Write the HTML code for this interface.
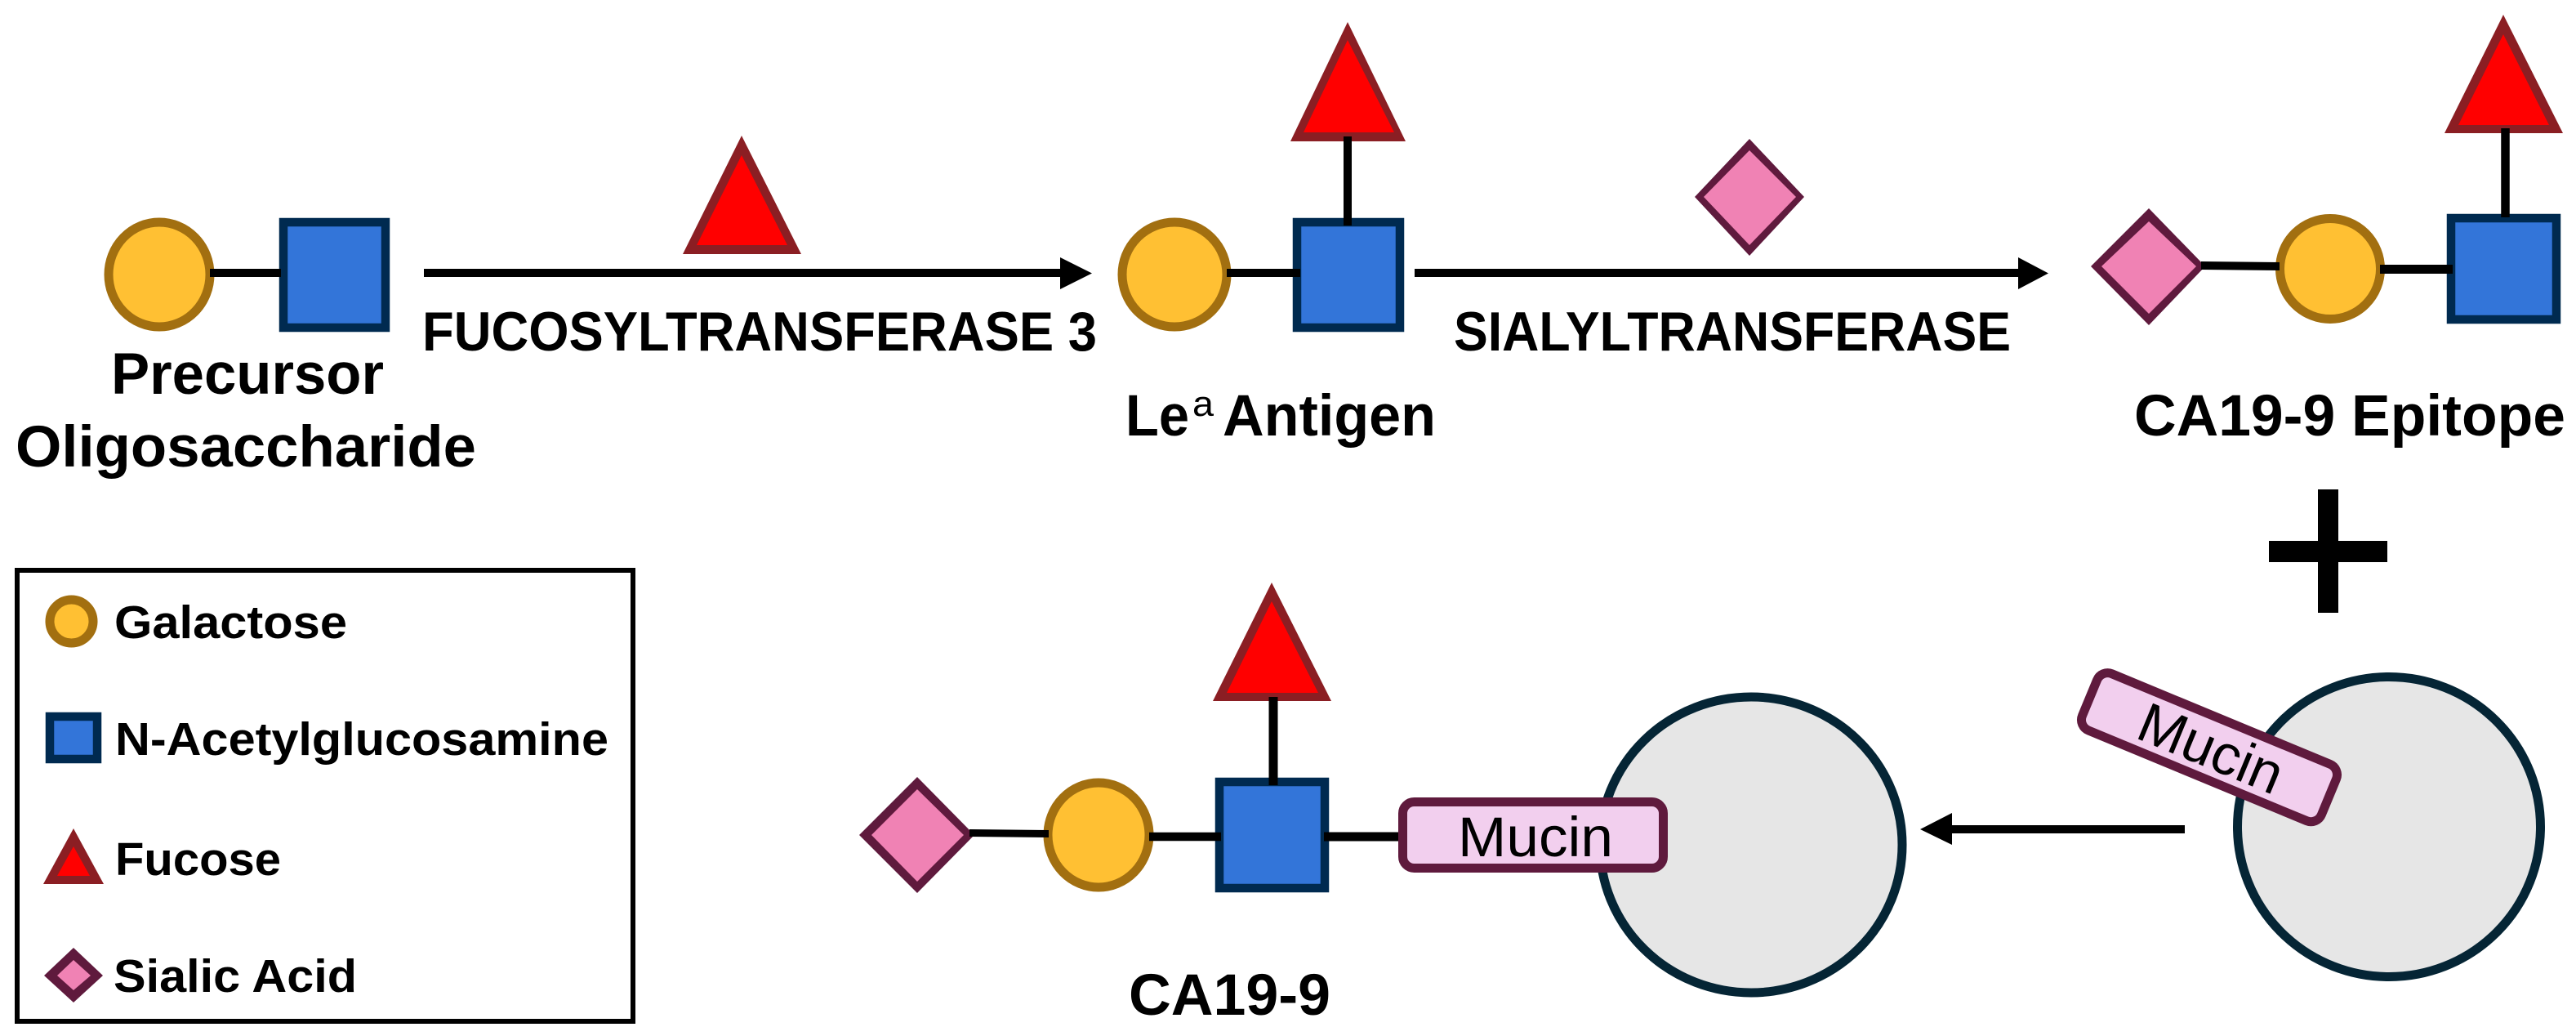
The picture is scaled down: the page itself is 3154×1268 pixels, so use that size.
<!DOCTYPE html>
<html><head><meta charset="utf-8"><style>
html,body{margin:0;padding:0;background:#fff}
svg{display:block}
text{font-family:"Liberation Sans",sans-serif;font-weight:bold;fill:#000}
.g{fill:#ffc033;stroke:#a26f10;stroke-width:11}
.b{fill:#3375d9;stroke:#002a50;stroke-width:10.500}
.do{fill:#5f1a3d}.di{fill:#f082b4}
.to{fill:#8b1e23}.ti{fill:#f00}
.c{fill:#e6e6e6;stroke:#052535;stroke-width:11}
.m{fill:#f2cfee;stroke:#5f1a3d;stroke-width:11}
line{stroke:#000}
</style></head><body>
<svg width="3154" height="1268" viewBox="0 0 3154 1268" xmlns="http://www.w3.org/2000/svg">
<rect width="3154" height="1268" fill="#fff"/>

<!-- Precursor -->
<ellipse class="g" cx="195" cy="336" rx="62" ry="64"/>
<rect class="b" x="347" y="272" width="125" height="129"/>
<line x1="257" y1="334" x2="344" y2="334" stroke-width="10"/>
<text x="136" y="482" font-size="71" textLength="334" lengthAdjust="spacingAndGlyphs">Precursor</text>
<text x="19" y="571" font-size="71" textLength="564" lengthAdjust="spacingAndGlyphs">Oligosaccharide</text>

<!-- Arrow 1 -->
<polygon class="to" points="908,166 981,311 836,311"/>
<polygon class="ti" points="908,190 964,300 853,300"/>
<line x1="519" y1="334" x2="1300" y2="334" stroke-width="10"/>
<polygon points="1298,315 1337,334.500 1298,354"/>
<text x="517" y="429" font-size="68" textLength="826" lengthAdjust="spacingAndGlyphs">FUCOSYLTRANSFERASE 3</text>

<!-- Lea -->
<ellipse class="g" cx="1438" cy="336" rx="64" ry="64"/>
<rect class="b" x="1588" y="272" width="126" height="129"/>
<polygon class="to" points="1650,27 1721,173 1580,173"/>
<polygon class="ti" points="1650,49 1707,162 1596,162"/>
<line x1="1502" y1="334" x2="1592" y2="334" stroke-width="10"/>
<line x1="1650" y1="167" x2="1650" y2="276" stroke-width="10"/>
<text x="1378" y="533" font-size="71" textLength="78" lengthAdjust="spacingAndGlyphs">Le</text>
<text x="1460" y="509" font-size="44" style="font-weight:normal" textLength="26" lengthAdjust="spacingAndGlyphs">a</text>
<text x="1497" y="533" font-size="71" textLength="261" lengthAdjust="spacingAndGlyphs">Antigen</text>

<!-- Arrow 2 -->
<polygon class="do" points="2142,170 2209,241 2142,313 2075,241"/>
<polygon class="di" points="2142,184 2199,241 2142,300 2086,241"/>
<line x1="1732" y1="334" x2="2473" y2="334" stroke-width="10"/>
<polygon points="2471,315 2508,334.500 2471,354"/>
<text x="1780" y="429" font-size="68" textLength="682" lengthAdjust="spacingAndGlyphs">SIALYLTRANSFERASE</text>

<!-- CA19-9 Epitope -->
<polygon class="do" points="2631,255 2700,326 2631,398 2560,326"/>
<polygon class="di" points="2631,271 2689,326 2631,384 2573,326"/>
<ellipse class="g" cx="2853" cy="329" rx="61.500" ry="61.500"/>
<rect class="b" x="3001" y="267" width="129" height="124"/>
<polygon class="to" points="3065,18 3138,163 2993,163"/>
<polygon class="ti" points="3065,42 3121,153 3010,153"/>
<polygon points="2695,320 2791,321 2791,331 2695,330"/>
<line x1="2914" y1="329.500" x2="3003" y2="329.500" stroke-width="11"/>
<line x1="3067.500" y1="157" x2="3067.500" y2="266" stroke-width="10.500"/>
<text x="2613" y="533" font-size="71" textLength="528" lengthAdjust="spacingAndGlyphs">CA19-9 Epitope</text>

<!-- Plus -->
<rect x="2838" y="599" width="25" height="151" fill="#000"/>
<rect x="2778" y="662" width="145" height="26" fill="#000"/>

<!-- Right cell with mucin -->
<ellipse class="c" cx="2925" cy="1012" rx="185.500" ry="183.500"/>
<g transform="translate(2705 914.700) rotate(22.500)">
<rect class="m" x="-158.500" y="-37.500" width="317" height="75" rx="14" ry="14"/>
<text x="-90" y="24" font-size="69" style="font-weight:normal" textLength="185" lengthAdjust="spacingAndGlyphs">Mucin</text>
</g>
<line x1="2675" y1="1015" x2="2388" y2="1015" stroke-width="10"/>
<polygon points="2390,995 2351,1015 2390,1034"/>

<!-- CA19-9 -->
<ellipse class="c" cx="2144" cy="1034" rx="185" ry="181"/>
<polygon class="do" points="1123,951 1193,1022 1123,1093 1052,1022"/>
<polygon class="di" points="1123,966 1180,1022 1123,1079 1067,1022"/>
<ellipse class="g" cx="1345" cy="1022" rx="62" ry="64"/>
<rect class="b" x="1493" y="957" width="129" height="130"/>
<polygon class="to" points="1557,713 1630,858 1485,858"/>
<polygon class="ti" points="1557,736 1614,848 1502,848"/>
<polygon points="1187,1015 1284,1016 1284,1025 1187,1024"/>
<line x1="1407" y1="1024" x2="1495" y2="1024" stroke-width="10.500"/>
<line x1="1621" y1="1024" x2="1720" y2="1024" stroke-width="11"/>
<line x1="1559" y1="853" x2="1559" y2="961" stroke-width="11"/>
<rect class="m" x="1717.500" y="981.500" width="319" height="81" rx="14" ry="14"/>
<text x="1785" y="1048" font-size="69" style="font-weight:normal" textLength="190" lengthAdjust="spacingAndGlyphs">Mucin</text>
<text x="1382" y="1242" font-size="71" textLength="247" lengthAdjust="spacingAndGlyphs">CA19-9</text>

<!-- Legend -->
<rect x="21" y="698" width="754" height="552" fill="#fff" stroke="#000" stroke-width="6"/>
<ellipse class="g" cx="87.500" cy="760.500" rx="26.500" ry="26.500"/>
<rect class="b" x="61" y="877" width="58" height="52"/>
<polygon class="to" points="90,1014 127,1082 53,1082"/>
<polygon class="ti" points="90,1036 110,1072 70,1072"/>
<polygon class="do" points="90,1160 126,1194 90,1227 54,1194"/>
<polygon class="di" points="90,1175 111,1194 90,1212 70,1194"/>
<text x="140" y="781" font-size="57" textLength="285" lengthAdjust="spacingAndGlyphs">Galactose</text>
<text x="141" y="924" font-size="57" textLength="604" lengthAdjust="spacingAndGlyphs">N-Acetylglucosamine</text>
<text x="141" y="1071" font-size="57" textLength="203" lengthAdjust="spacingAndGlyphs">Fucose</text>
<text x="139" y="1214" font-size="57" textLength="298" lengthAdjust="spacingAndGlyphs">Sialic Acid</text>
</svg>
</body></html>
